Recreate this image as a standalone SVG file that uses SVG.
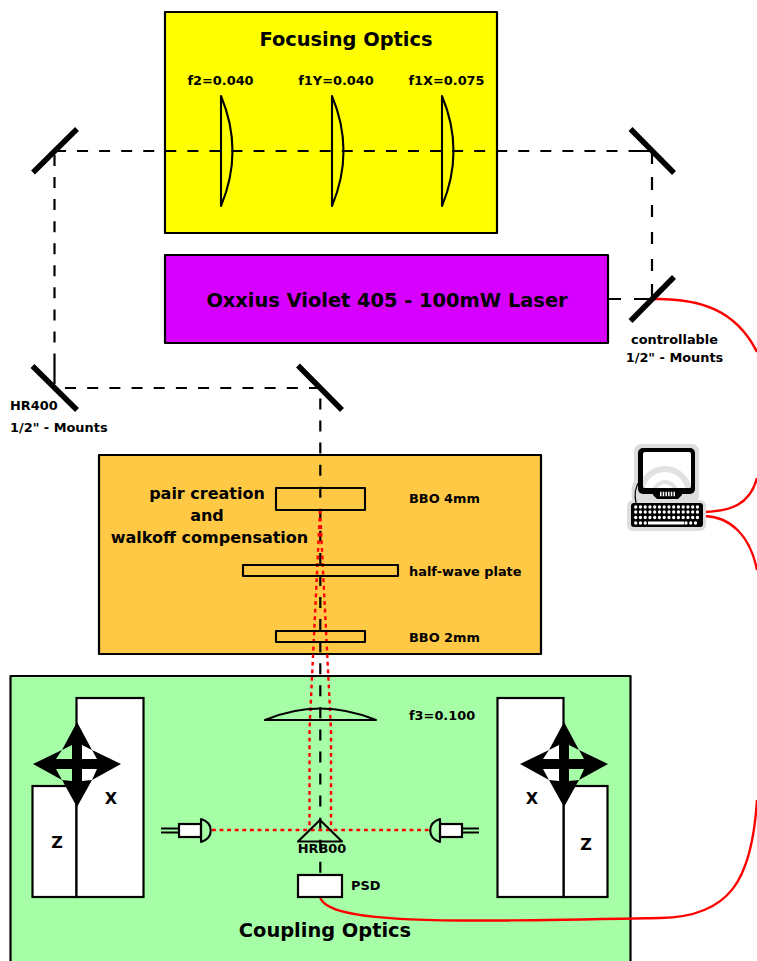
<svg xmlns="http://www.w3.org/2000/svg" width="757" height="961" viewBox="0 0 757 961">
<style>
text{font-family:"DejaVu Sans",sans-serif;font-weight:bold;fill:#000}
.s{font-size:12.900px}.m{font-size:16px}.l{font-size:19.400px}
.box{stroke:#000;stroke-width:2.200;stroke-linejoin:round}
.el{fill:none;stroke:#000;stroke-width:2.100;stroke-linejoin:round}
.w{fill:#fff;stroke:#000;stroke-width:2.200}
.beam{fill:none;stroke:#000;stroke-width:2.200;stroke-dasharray:11 11.060}
.sol{fill:none;stroke:#000;stroke-width:2.200}
.mir{stroke:#000;stroke-width:5.500;fill:none}
.red{fill:none;stroke:#f00;stroke-width:2.400}
.rd{fill:none;stroke:#f00;stroke-width:2.400;stroke-dasharray:3.800 3.800}
.ar{fill:none;stroke:#000;stroke-width:10}
.dots{fill:none;stroke:#fff;stroke-width:3.300;stroke-linecap:round;stroke-dasharray:0 4.750}
</style>
<defs>
<clipPath id="scr"><rect x="643" y="452" width="48" height="36" rx="2"/></clipPath>
<g id="cross"><path class="ar" d="M0 -24V24M-24 0H24"/><path d="M0 -42L15 -14L5 -19H-5L-15 -14ZM0 43L15 16L5 17H-5L-15 16ZM-44 0L-15 -14L-21 -5V5L-15 16ZM44 0L15 -14L20 -5V5L15 16Z"/></g>
</defs>
<rect width="757" height="961" fill="#fff"/>
<g id="focusing-optics"><rect class="box" x="165" y="12" width="332" height="221" fill="#ff0"/><text class="l" x="346" y="46" text-anchor="middle">Focusing Optics</text></g>
<g id="coupling-optics"><rect class="box" x="10.500" y="676" width="620" height="290" fill="#a6ffa6"/><text class="l" x="325" y="937" text-anchor="middle">Coupling Optics</text></g>
<g id="crystal-box"><rect class="box" x="99" y="455" width="442" height="199" fill="#ffc845"/>
<text class="m" x="207" y="499" text-anchor="middle">pair creation</text><text class="m" x="207" y="521" text-anchor="middle">and</text><text class="m" x="209.500" y="543" text-anchor="middle">walkoff compensation</text></g>
<g id="connectors">
<path class="sol" d="M609 299H621M634 299H652M652 153V164M652 177V190M652 205V217M652 232V244M652 259V271M652 284V299M630 151H652M54.500 355V384"/>
<path class="beam" d="M55 151H630"/>
<path class="beam" d="M54.500 155V355"/>
<path class="beam" style="stroke-dasharray:11 11.180" d="M65 388H320"/>
<path class="beam" d="M320.300 398.500V875"/>
<path class="red" d="M652 299C700 298 736 310 757 352"/>
<path class="red" d="M705 512C730 511 750 505 757 478"/>
<path class="red" d="M705 516C730 517 750 535 757 570"/>
<path class="red" d="M320 897C328 925 450 922 660 918C730 917 752 880 757 800"/>
<path class="rd" d="M320 510L309.500 730V830"/>
<path class="rd" d="M320 510L331 730V830"/>
<path class="rd" d="M212 830H432"/>
</g>
<g id="laser"><rect class="box" x="165" y="255" width="443" height="88" fill="#d700ff"/><text class="l" x="387" y="307" text-anchor="middle">Oxxius Violet 405 - 100mW Laser</text></g>
<g id="mirrors">
<path class="mir" d="M33 172.500L77 129"/><path class="mir" d="M630.500 129L674 173"/><path class="mir" d="M630.500 321L674 277"/><path class="mir" d="M32.500 366L77 410"/><path class="mir" d="M298 365.500L342 410"/>
</g>
<g id="lens-f2"><path class="el" d="M221 96V206Q244 151 221 96Z"/><text class="s" x="220.500" y="85" text-anchor="middle">f2=0.040</text></g>
<g id="lens-f1y"><path class="el" d="M332 96V206Q355 151 332 96Z"/><text class="s" x="336" y="85" text-anchor="middle">f1Y=0.040</text></g>
<g id="lens-f1x"><path class="el" d="M442 96V206Q465 151 442 96Z"/><text class="s" x="446.500" y="85" text-anchor="middle">f1X=0.075</text></g>
<g id="labels-mounts"><text class="s" x="674.500" y="344" text-anchor="middle">controllable</text><text class="s" x="674.500" y="362" text-anchor="middle">1/2" - Mounts</text><text class="s" x="10" y="410">HR400</text><text class="s" x="10" y="432">1/2" - Mounts</text></g>
<g id="bbo4"><rect class="el" x="276" y="488" width="89" height="22"/><text class="s" x="409" y="503">BBO 4mm</text></g>
<g id="waveplate"><rect class="el" x="243" y="565" width="155" height="11"/><text class="s" x="409" y="576">half-wave plate</text></g>
<g id="bbo2"><rect class="el" x="276" y="631" width="89" height="11"/><text class="s" x="409" y="642">BBO 2mm</text></g>
<g id="lens-f3"><path class="el" d="M265 720H376Q320 697 265 720Z"/><text class="s" x="409" y="720">f3=0.100</text></g>
<g id="stage-left"><rect class="w" x="32.500" y="786" width="44" height="111"/><rect class="w" x="76.500" y="698" width="67" height="199"/><text class="m" x="57" y="848" text-anchor="middle">Z</text><text class="m" x="111" y="804" text-anchor="middle">X</text>
<use href="#cross" x="77" y="764"/></g>
<g id="stage-right"><rect class="w" x="563.500" y="786" width="44" height="111"/><rect class="w" x="497.500" y="698" width="66" height="199"/><text class="m" x="586" y="850" text-anchor="middle">Z</text><text class="m" x="532" y="804" text-anchor="middle">X</text>
<use href="#cross" x="564" y="764"/></g>
<g id="coupler-left"><path class="el" d="M161 828.500H179M161 832.500H179"/><rect class="w" x="179" y="824" width="22" height="13"/><path class="el" d="M201 819V842C214 838 214 823 201 819Z"/></g>
<g id="coupler-right"><path class="el" d="M461 828.500H479M461 832.500H479"/><rect class="w" x="440" y="824" width="22" height="13"/><path class="el" d="M440 819V842C427 838 427 823 440 819Z"/></g>
<g id="prism"><path class="el" d="M298 841.500H342L320 820Z"/><text class="s" x="322" y="853" text-anchor="middle">HRB00</text></g>
<g id="psd"><rect class="w" x="298" y="875" width="44" height="22"/><text class="s" x="351" y="890">PSD</text></g>
<g id="computer">
<rect x="634" y="444" width="65" height="58" rx="7" fill="#ddd"/><rect x="627" y="500" width="79" height="31" rx="6" fill="#ddd"/>
<circle cx="665" cy="493" r="31" fill="none" stroke="#ddd" stroke-width="5"/>
<rect x="638" y="448" width="57" height="46" rx="5" fill="#000"/><rect x="643" y="452" width="48" height="36" rx="2" fill="#fff"/>
<g clip-path="url(#scr)" fill="none" stroke="#e2e2e2"><circle cx="665" cy="493" r="24" stroke-width="6"/><circle cx="665" cy="493" r="11" stroke-width="4"/></g>
<path d="M653 491H682V495L678 499H657L653 495Z"/>
<path d="M660 494H675" stroke="#fff" stroke-width="4.500" stroke-dasharray="1.500 1.200"/>
<path d="M640 480C635 487 634 494 636 503" fill="none" stroke="#000" stroke-width="1.200"/>
<rect x="631" y="503" width="72" height="24" rx="3" fill="#000"/>
<path class="dots" d="M635.700 507H700M635.700 512H700M635.700 517.500H700M635.700 523H647M686 523H700"/>
<rect x="648" y="521.500" width="36" height="3" fill="#fff"/>
</g>
</svg>
